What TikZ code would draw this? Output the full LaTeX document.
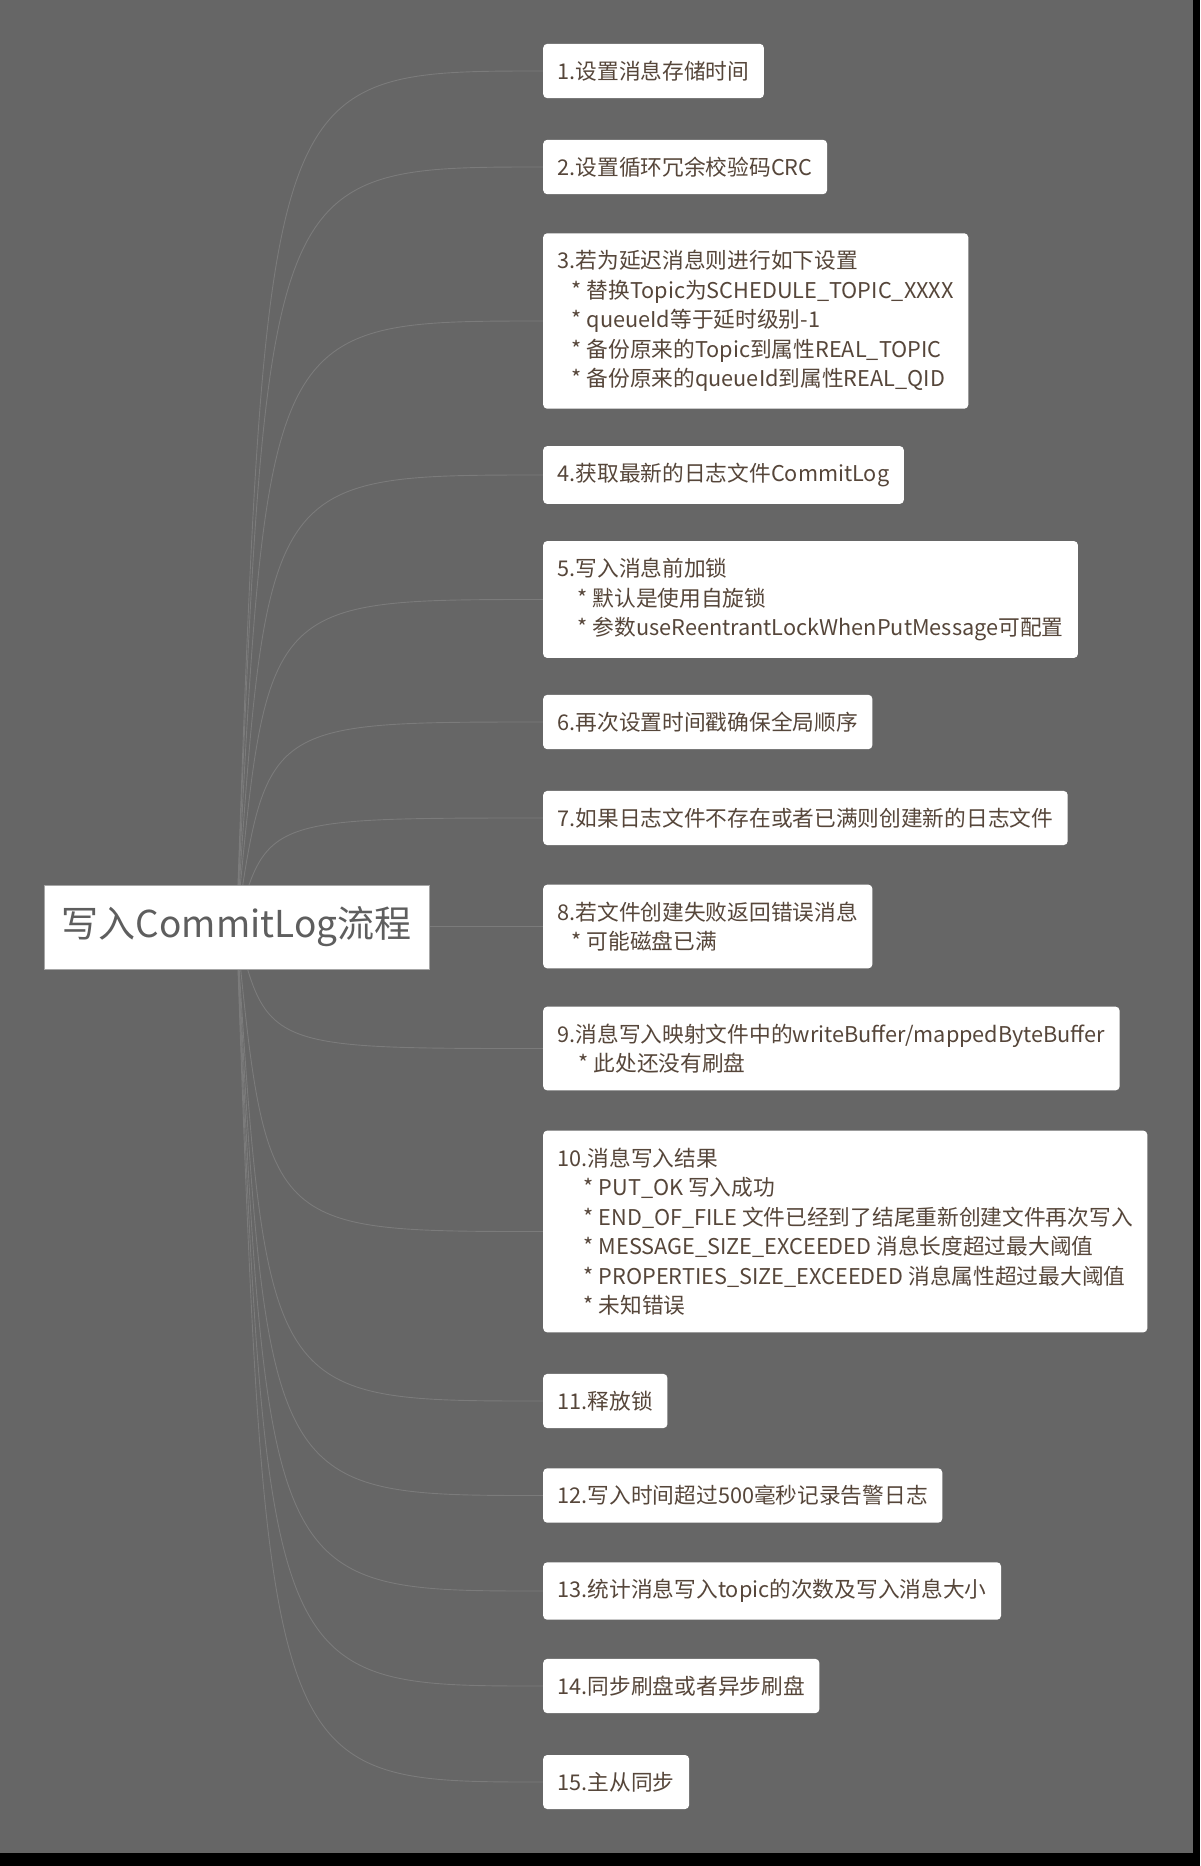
\documentclass[tikz,border=0pt]{standalone}
\usepackage{fontspec}
\setmainfont{Noto Sans CJK SC}
\usetikzlibrary{calc,backgrounds}
\definecolor{Canvas}{HTML}{666666}
\definecolor{LinkGray}{HTML}{7B7B7B}
\definecolor{StepText}{HTML}{56463A}
\definecolor{RootText}{HTML}{5E5E5E}
\newcommand{\BoxLeft}{543}
\newcommand{\Ind}[1]{\hspace*{#1pt}}
\tikzset{StepBox/.style={
    anchor=west,
    fill=white,
    rounded corners=4pt,
    inner xsep=14.5pt,
    inner ysep=17pt,
    align=left,
    text=StepText,
    font={\fontsize{21.7}{29.5}\selectfont}
    },
    Root/.style={
    fill=white,
    draw=gray!70,
    line width=0.8pt,
    minimum width=385pt,
    minimum height=84pt,
    inner sep=0pt,
    text=RootText,
    font={\fontsize{37}{44}\selectfont}
    },
    Link/.style={draw=LinkGray, line width=0.9pt}
}

\begin{document}
\begin{tikzpicture}[x=1pt,y=1pt]
\useasboundingbox (0,0) rectangle (1200,-1866);
\node [Root] (root) at (236.5,-927) {写入CommitLog流程};
\node [StepBox] (b1) at (\BoxLeft,-71) {1.设置消息存储时间};
\node [StepBox] (b2) at (\BoxLeft,-167) {2.设置循环冗余校验码CRC};
\node [StepBox] (b3) at (\BoxLeft,-321) {3.若为延迟消息则进行如下设置\\
\Ind{14}* 替换Topic为SCHEDULE\_TOPIC\_XXXX\\
\Ind{14}* queueId等于延时级别-1\\
\Ind{14}* 备份原来的Topic到属性REAL\_TOPIC\\
\Ind{14}* 备份原来的queueId到属性REAL\_QID};
\node [StepBox] (b4) at (\BoxLeft,-475) {4.获取最新的日志文件CommitLog};
\node [StepBox] (b5) at (\BoxLeft,-599.5) {5.写入消息前加锁\\
\Ind{20}* 默认是使用自旋锁\\
\Ind{20}* 参数useReentrantLockWhenPutMessage可配置};
\node [StepBox] (b6) at (\BoxLeft,-722) {6.再次设置时间戳确保全局顺序};
\node [StepBox] (b7) at (\BoxLeft,-818) {7.如果日志文件不存在或者已满则创建新的日志文件};
\node [StepBox] (b8) at (\BoxLeft,-926.5) {8.若文件创建失败返回错误消息\\
\Ind{14}* 可能磁盘已满};
\node [StepBox] (b9) at (\BoxLeft,-1048.5) {9.消息写入映射文件中的writeBuffer/mappedByteBuffer\\
\Ind{21}* 此处还没有刷盘};
\node [StepBox] (b10) at (\BoxLeft,-1231.5) {10.消息写入结果\\
\Ind{26}* PUT\_OK 写入成功\\
\Ind{26}* END\_OF\_FILE 文件已经到了结尾重新创建文件再次写入\\
\Ind{26}* MESSAGE\_SIZE\_EXCEEDED 消息长度超过最大阈值\\
\Ind{26}* PROPERTIES\_SIZE\_EXCEEDED 消息属性超过最大阈值\\
\Ind{26}* 未知错误};
\node [StepBox] (b11) at (\BoxLeft,-1401) {11.释放锁};
\node [StepBox] (b12) at (\BoxLeft,-1495.5) {12.写入时间超过500毫秒记录告警日志};
\node [StepBox] (b13) at (\BoxLeft,-1591) {13.统计消息写入topic的次数及写入消息大小};
\node [StepBox] (b14) at (\BoxLeft,-1686) {14.同步刷盘或者异步刷盘};
\node [StepBox] (b15) at (\BoxLeft,-1782) {15.主从同步};
\begin{scope}[on background layer]
\fill [black] (0,0) rectangle (1200,-1866);
\fill [Canvas] (0,0) rectangle (1193,-1853);
% curves from the centre of the root to every step
\foreach \i in {1,...,15} {
\draw [Link] (root.center) .. controls ($(root.center |- b\i.west)+(30,0)$) .. (b\i.west);
}
\end{scope}
\end{tikzpicture}
\end{document}
